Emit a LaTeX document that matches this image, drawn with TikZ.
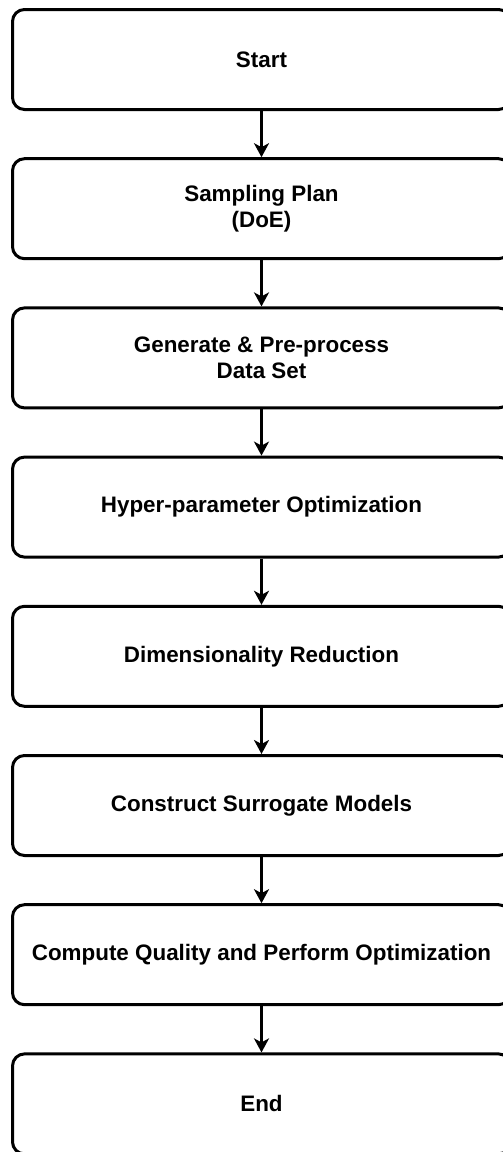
\documentclass[tikz,border=0pt]{standalone}
\usepackage{fontspec}
\setmainfont{Liberation Sans}
\usetikzlibrary{arrows.meta}
\begin{document}
\begin{tikzpicture}[x=1pt,y=1pt,
  stepbox/.style={draw=black, line width=3pt, rounded corners=12pt, fill=white,
    minimum width=498pt, minimum height=100pt, align=center,
    font=\fontsize{22.4}{26.6}\selectfont\bfseries, inner sep=0pt},
  flow/.style={line width=3pt, -{Stealth[length=14pt,width=15pt,inset=4pt]}}]
\clip (0,0) rectangle (503,-1152);
\fill[white] (0,0) rectangle (503,-1152);
\node[stepbox] (n1) at (261.5,-59.5) {Start};
\node[stepbox] (n2) at (261.5,-208.7) {Sampling Plan\\(DoE)};
\node[stepbox] (n3) at (261.5,-357.9) {Generate \& Pre-process\\Data Set};
\node[stepbox] (n4) at (261.5,-507.1) {Hyper-parameter Optimization};
\node[stepbox] (n5) at (261.5,-656.3) {Dimensionality Reduction};
\node[stepbox] (n6) at (261.5,-805.5) {Construct Surrogate Models};
\node[stepbox] (n7) at (261.5,-954.7) {Compute Quality and Perform Optimization};
\node[stepbox] (n8) at (261.5,-1103.9) {End};
\foreach \a/\b in {n1/n2,n2/n3,n3/n4,n4/n5,n5/n6,n6/n7,n7/n8}
  \draw[flow] (\a.south) -- (\b.north);
\end{tikzpicture}
\end{document}
